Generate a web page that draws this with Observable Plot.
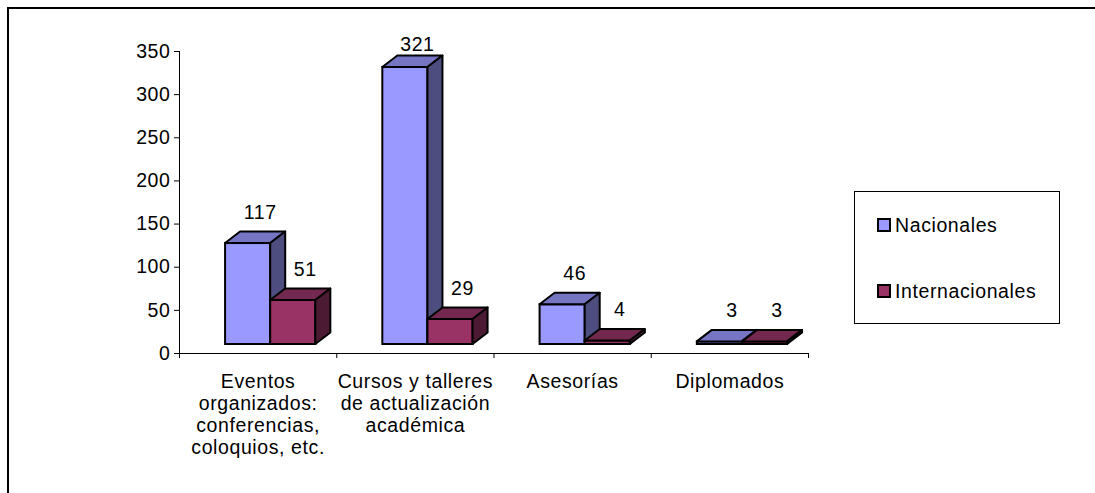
<!DOCTYPE html>
<html>
<head>
<meta charset="utf-8">
<script src="https://cdn.jsdelivr.net/npm/d3@7"></script>
<script src="https://cdn.jsdelivr.net/npm/@observablehq/plot@0.6"></script>
<style>
  html, body { margin: 0; background: #fff; overflow: hidden; }
  #wrap { position: relative; width: 1095px; height: 493px; overflow: hidden; font-family: "Liberation Sans", Arial, sans-serif; }
  #wrap svg { position: absolute; left: 0; top: 0; }
  #frame { position: absolute; left: 7px; top: 7px; width: 1088px; height: 486px; border-left: 2px solid #000; border-top: 2px solid #000; box-sizing: border-box; pointer-events: none; }
  #legend { position: absolute; left: 854px; top: 191px; width: 206px; height: 133px; border: 1px solid #000; box-sizing: border-box; background: #fff; }
  .item { position: absolute; left: 22px; height: 22px; font-size: 19.5px; letter-spacing: 0.6px; color: #000; white-space: nowrap; }
  .sw { display: inline-block; width: 10px; height: 10px; border: 2px solid #000; vertical-align: 0px; margin-right: 4px; }
</style>
</head>
<body>
<div id="wrap">
  <div id="legend"></div>
  <div id="frame"></div>
</div>
<script>
// ---- data ----
const categories = [
  "Eventos\norganizados:\nconferencias,\ncoloquios, etc.",
  "Cursos y talleres\nde actualización\nacadémica",
  "Asesorías",
  "Diplomados"
];
const series = ["Nacionales", "Internacionales"];
const nacionales = [117, 321, 46, 3];
const internacionales = [51, 29, 4, 3];
const yTicks = [0, 50, 100, 150, 200, 250, 300, 350];

// ---- styling / geometry constants ----
const colors = {
  Nacionales: {front: "#9999FF", top: "#7575C4", side: "#4D4D80"},
  Internacionales: {front: "#993366", top: "#73284F", side: "#4D1A33"}
};
const OFF = 0.293, W = 0.287;     // bar placement inside a category (fraction of band)
const DX = 15, DY = 11.5, SHIFT = 9; // 3D depth in px
const FS = 19.5;

const rows = (vals, j) => vals.map((v, i) => ({
  cat: i, series: series[j], value: v,
  x1: i + OFF + j * W, x2: i + OFF + (j + 1) * W
}));
const nac = rows(nacionales, 0);
const intl = rows(internacionales, 1);

function faces(data, c) {
  return (index, scales) => {
    const g = d3.create("svg:g")
      .attr("stroke", "#000").attr("stroke-width", 2).attr("stroke-linejoin", "round");
    for (const d of data) {
      const xl = scales.x(d.x1), xr = scales.x(d.x2);
      const yb = scales.y(0) - SHIFT, yt = scales.y(d.value) - SHIFT;
      g.append("path")
        .attr("d", `M${xl},${yt}L${xl + DX},${yt - DY}L${xr + DX},${yt - DY}L${xr},${yt}Z`)
        .attr("fill", c.top);
      g.append("path")
        .attr("d", `M${xr},${yt}L${xr + DX},${yt - DY}L${xr + DX},${yb - DY}L${xr},${yb}Z`)
        .attr("fill", c.side);
    }
    return g.node();
  };
}

function front(data, c) {
  return Plot.rect(data, {
    x1: "x1", x2: "x2", y1: 0, y2: "value", dy: -SHIFT,
    fill: c.front, stroke: "#000", strokeWidth: 2
  });
}

function labels(data) {
  return Plot.text(data, {
    x: d => (d.x1 + d.x2) / 2, y: "value", text: d => String(d.value),
    dx: 12, dy: d => d.value > 300 ? -32 : -40, fontSize: FS, fill: "#000"
  });
}

const chart = Plot.plot({
  width: 1095,
  height: 493,
  marginLeft: 179,
  marginRight: 287,
  marginTop: 51,
  marginBottom: 140,
  style: {fontFamily: "'Liberation Sans', Arial, sans-serif", fontSize: FS + "px", color: "#000", background: "transparent", letterSpacing: "0.6px", overflow: "visible"},
  x: {domain: [0, categories.length], ticks: d3.range(categories.length + 1), tickFormat: () => "", tickSize: 5, line: true, label: null},
  y: {domain: [0, 350], ticks: yTicks, tickSize: 5, tickPadding: 4, line: true, label: null},
  marks: [
    front(nac, colors.Nacionales),
    faces(nac, colors.Nacionales),
    front(intl, colors.Internacionales),
    faces(intl, colors.Internacionales),
    Plot.text(nac, {x: d => (d.x1 + d.x2) / 2, y: "value", text: d => String(d.value), dx: 12, dy: -40, fontSize: FS, fill: "#000", filter: d => d.value <= 300}),
    Plot.text(nac, {x: d => (d.x1 + d.x2) / 2, y: "value", text: d => String(d.value), dx: 12, dy: -32, fontSize: FS, fill: "#000", filter: d => d.value > 300}),
    Plot.text(intl, {x: d => (d.x1 + d.x2) / 2, y: "value", text: d => String(d.value), dx: 12, dy: -40, fontSize: FS, fill: "#000"}),
    Plot.text(categories, {
      x: (d, i) => i + 0.5, y: 0, text: d => d,
      lineAnchor: "top", dy: 19, lineHeight: 1.13, fontSize: FS, fill: "#000"
    })
  ]
});
document.getElementById("wrap").prepend(chart);

// legend
const legend = d3.select("#legend");
series.forEach((s, i) => {
  const it = legend.append("div").attr("class", "item").style("top", (i === 0 ? 22 : 88) + "px");
  it.append("span").attr("class", "sw").style("background", colors[s].front);
  it.append("span").text(s);
});
</script>
</body>
</html>
